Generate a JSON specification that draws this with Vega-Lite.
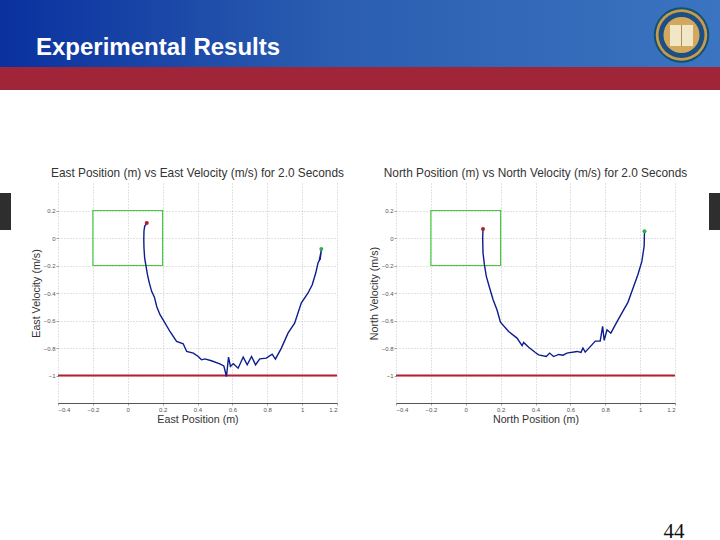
{
"$schema":"https://vega.github.io/schema/vega-lite/v6.json",
"padding":0,
"spacing":0,
"bounds":"flush",
"background":"white",
"config":{"view":{"stroke":null},"font":"Liberation Sans",
 "axis":{"grid":true,"gridColor":"#b5b5b5","gridDash":[1,2],"gridWidth":0.8,"labelFont":"Liberation Sans","labelFontSize":6,"labelColor":"#555","labelOverlap":false,"titleFont":"Liberation Sans","titleFontWeight":"normal","titleFontSize":10.7,"titleColor":"#333","tickColor":"#777","tickSize":2,"tickWidth":0.7,"labelPadding":1},
 "title":{"font":"Liberation Sans","fontSize":11.85,"fontWeight":"normal","color":"#333","offset":3}},
"datasets":{
 "east":[
{"t":0,"pos":0.109,"vel":0.109},{"t":1,"pos":0.097,"vel":0.085},{"t":2,"pos":0.093,"vel":0.049},{"t":3,"pos":0.092,"vel":-0.012},{"t":4,"pos":0.093,"vel":-0.073},{"t":5,"pos":0.097,"vel":-0.146},{"t":6,"pos":0.105,"vel":-0.206},{"t":7,"pos":0.113,"vel":-0.267},{"t":8,"pos":0.124,"vel":-0.328},{"t":9,"pos":0.137,"vel":-0.388},{"t":10,"pos":0.153,"vel":-0.43},{"t":11,"pos":0.166,"vel":-0.498},{"t":12,"pos":0.185,"vel":-0.558},{"t":13,"pos":0.214,"vel":-0.619},{"t":14,"pos":0.242,"vel":-0.68},{"t":15,"pos":0.28,"vel":-0.752},{"t":16,"pos":0.318,"vel":-0.769},{"t":17,"pos":0.338,"vel":-0.825},{"t":18,"pos":0.376,"vel":-0.837},{"t":19,"pos":0.404,"vel":-0.862},{"t":20,"pos":0.423,"vel":-0.886},{"t":21,"pos":0.442,"vel":-0.879},{"t":22,"pos":0.48,"vel":-0.893},{"t":23,"pos":0.528,"vel":-0.915},{"t":24,"pos":0.551,"vel":-0.93},{"t":25,"pos":0.566,"vel":-1.007},{"t":26,"pos":0.578,"vel":-0.866},{"t":27,"pos":0.589,"vel":-0.934},{"t":28,"pos":0.605,"vel":-0.915},{"t":29,"pos":0.633,"vel":-0.947},{"t":30,"pos":0.662,"vel":-0.866},{"t":31,"pos":0.685,"vel":-0.922},{"t":32,"pos":0.71,"vel":-0.862},{"t":33,"pos":0.733,"vel":-0.922},{"t":34,"pos":0.757,"vel":-0.879},{"t":35,"pos":0.795,"vel":-0.874},{"t":36,"pos":0.828,"vel":-0.845},{"t":37,"pos":0.847,"vel":-0.881},{"t":38,"pos":0.881,"vel":-0.801},{"t":39,"pos":0.919,"vel":-0.692},{"t":40,"pos":0.957,"vel":-0.619},{"t":41,"pos":0.995,"vel":-0.473},{"t":42,"pos":1.034,"vel":-0.4},{"t":43,"pos":1.058,"vel":-0.34},{"t":44,"pos":1.078,"vel":-0.255},{"t":45,"pos":1.091,"vel":-0.182},{"t":46,"pos":1.1,"vel":-0.158},{"t":47,"pos":1.097,"vel":-0.17},{"t":48,"pos":1.11,"vel":-0.09},{"t":49,"pos":1.103,"vel":-0.16},{"t":50,"pos":1.11,"vel":-0.08}],
 "north":[
{"t":0,"pos":0.099,"vel":0.065},{"t":1,"pos":0.097,"vel":0},{"t":2,"pos":0.099,"vel":-0.109},{"t":3,"pos":0.107,"vel":-0.194},{"t":4,"pos":0.118,"vel":-0.279},{"t":5,"pos":0.137,"vel":-0.364},{"t":6,"pos":0.157,"vel":-0.449},{"t":7,"pos":0.179,"vel":-0.522},{"t":8,"pos":0.199,"vel":-0.612},{"t":9,"pos":0.246,"vel":-0.68},{"t":10,"pos":0.294,"vel":-0.728},{"t":11,"pos":0.323,"vel":-0.782},{"t":12,"pos":0.332,"vel":-0.76},{"t":13,"pos":0.361,"vel":-0.794},{"t":14,"pos":0.399,"vel":-0.833},{"t":15,"pos":0.418,"vel":-0.85},{"t":16,"pos":0.462,"vel":-0.862},{"t":17,"pos":0.481,"vel":-0.837},{"t":18,"pos":0.504,"vel":-0.862},{"t":19,"pos":0.533,"vel":-0.847},{"t":20,"pos":0.558,"vel":-0.852},{"t":21,"pos":0.58,"vel":-0.837},{"t":22,"pos":0.638,"vel":-0.825},{"t":23,"pos":0.661,"vel":-0.832},{"t":24,"pos":0.672,"vel":-0.8},{"t":25,"pos":0.685,"vel":-0.83},{"t":26,"pos":0.743,"vel":-0.75},{"t":27,"pos":0.771,"vel":-0.75},{"t":28,"pos":0.785,"vel":-0.643},{"t":29,"pos":0.794,"vel":-0.745},{"t":30,"pos":0.81,"vel":-0.667},{"t":31,"pos":0.832,"vel":-0.692},{"t":32,"pos":0.863,"vel":-0.619},{"t":33,"pos":0.895,"vel":-0.546},{"t":34,"pos":0.93,"vel":-0.468},{"t":35,"pos":0.953,"vel":-0.388},{"t":36,"pos":0.987,"vel":-0.267},{"t":37,"pos":1.01,"vel":-0.17},{"t":38,"pos":1.023,"vel":-0.06},{"t":39,"pos":1.025,"vel":0.049}],
 "zone":[{"x0":-0.2,"x1":0.2,"y0":-0.2,"y1":0.2}],
 "limit":[{"x0":-0.4,"x1":1.2,"v":-1}],
 "one":[{"part":"decor"}]
},
"hconcat":[
 {"width":58,"height":220,"data":{"name":"one"},
  "layer":[
 {"mark":{"type":"rect","fill":{"gradient":"linear","x1":0,"x2":1,"y1":0,"y2":0,"stops":[{"offset":0,"color":"#0a319f"},{"offset":0.45,"color":"#2a5db0"},{"offset":1,"color":"#3b74c0"}]},"stroke":null},
  "encoding":{"x":{"datum":0,"type":"quantitative","scale":{"domain":[0,58]},"axis":null},"x2":{"datum":720},"y":{"datum":0,"type":"quantitative","scale":{"domain":[403,183]},"axis":null},"y2":{"datum":67}}},
 {"mark":{"type":"rect","fill":"#a02538","stroke":null},
  "encoding":{"x":{"datum":0,"type":"quantitative","scale":{"domain":[0,58]},"axis":null},"x2":{"datum":720},"y":{"datum":67,"type":"quantitative","scale":{"domain":[403,183]},"axis":null},"y2":{"datum":90}}},
 {"mark":{"type":"text","align":"left","baseline":"alphabetic","fontSize":24,"fontWeight":"bold","font":"Liberation Sans","color":"white","text":"Experimental Results"},
  "encoding":{"x":{"datum":36,"type":"quantitative","scale":{"domain":[0,58]},"axis":null},"y":{"datum":55,"type":"quantitative","scale":{"domain":[403,183]},"axis":null}}},
 {"mark":{"type":"point","filled":true,"opacity":1,"size":3080,"color":"#0f5273"},
  "encoding":{"x":{"datum":681.5,"type":"quantitative","scale":{"domain":[0,58]},"axis":null},"y":{"datum":35,"type":"quantitative","scale":{"domain":[403,183]},"axis":null}}},
 {"mark":{"type":"point","filled":true,"opacity":1,"size":2650,"color":"#c89a4a"},
  "encoding":{"x":{"datum":681.5,"type":"quantitative","scale":{"domain":[0,58]},"axis":null},"y":{"datum":35,"type":"quantitative","scale":{"domain":[403,183]},"axis":null}}},
 {"mark":{"type":"point","filled":true,"opacity":1,"size":2116,"color":"#1c4f86"},
  "encoding":{"x":{"datum":681.5,"type":"quantitative","scale":{"domain":[0,58]},"axis":null},"y":{"datum":35,"type":"quantitative","scale":{"domain":[403,183]},"axis":null}}},
 {"mark":{"type":"point","filled":true,"opacity":1,"size":1300,"color":"#d2a95c"},
  "encoding":{"x":{"datum":681.5,"type":"quantitative","scale":{"domain":[0,58]},"axis":null},"y":{"datum":35,"type":"quantitative","scale":{"domain":[403,183]},"axis":null}}},
 {"mark":{"type":"rect","fill":"#f0e6c8","stroke":null},
  "encoding":{"x":{"datum":670,"type":"quantitative","scale":{"domain":[0,58]},"axis":null},"x2":{"datum":693},"y":{"datum":25,"type":"quantitative","scale":{"domain":[403,183]},"axis":null},"y2":{"datum":46}}},
 {"mark":{"type":"rect","fill":"#b58d4c","stroke":null},
  "encoding":{"x":{"datum":681,"type":"quantitative","scale":{"domain":[0,58]},"axis":null},"x2":{"datum":682},"y":{"datum":25,"type":"quantitative","scale":{"domain":[403,183]},"axis":null},"y2":{"datum":46}}},
 {"mark":{"type":"rect","fill":"#2e2e2e","stroke":null},
  "encoding":{"x":{"datum":0,"type":"quantitative","scale":{"domain":[0,58]},"axis":null},"x2":{"datum":11},"y":{"datum":193,"type":"quantitative","scale":{"domain":[403,183]},"axis":null},"y2":{"datum":230}}}
 ]},
 {"width":279,"height":220,"title":"East Position (m) vs East Velocity (m/s) for 2.0 Seconds",
  "layer":[
   {"data":{"name":"zone"},"mark":{"type":"rect","fill":"transparent","stroke":"#46c83c","strokeWidth":1.2},
    "encoding":{"x":{"field":"x0","type":"quantitative","scale":{"domain":[-0.4,1.2]},
      "title":"East Position (m)","axis":{"values":[-0.4,-0.2,0,0.2,0.4,0.6,0.8,1,1.2],"tickCount":20,"format":".1~f","domainColor":"#555","titlePadding":2}},
     "x2":{"field":"x1"},
     "y":{"field":"y0","type":"quantitative","scale":{"domain":[-1.2,0.4]},
      "title":"East Velocity (m/s)","axis":{"values":[-1,-0.8,-0.6,-0.4,-0.2,0,0.2],"tickCount":20,"format":".1~f","domain":false,"titlePadding":2}},
     "y2":{"field":"y1"}}},
   {"data":{"name":"limit"},"mark":{"type":"rule","stroke":"#b3202c","strokeWidth":1.8},
    "encoding":{"x":{"field":"x0","type":"quantitative"},"x2":{"field":"x1"},"y":{"field":"v","type":"quantitative"}}},
   {"data":{"name":"east"},"mark":{"type":"line","stroke":"#0c1d8c","strokeWidth":1.4,"interpolate":"linear"},
    "encoding":{"x":{"field":"pos","type":"quantitative"},"y":{"field":"vel","type":"quantitative"},"order":{"field":"t"}}},
   {"data":{"name":"east"},"transform":[{"filter":"datum.t==0"}],"mark":{"type":"point","filled":true,"opacity":1,"size":16,"color":"#b0202c"},
    "encoding":{"x":{"field":"pos","type":"quantitative"},"y":{"field":"vel","type":"quantitative"}}},
   {"data":{"name":"east"},"transform":[{"filter":"datum.t==50"}],"mark":{"type":"point","filled":true,"opacity":1,"size":16,"color":"#2fb04a"},
    "encoding":{"x":{"field":"pos","type":"quantitative"},"y":{"field":"vel","type":"quantitative"}}}
  ]},
 {"width":59,"height":220,"data":{"name":"one"},"mark":{"type":"rect","fill":"transparent","stroke":null},
  "encoding":{"x":{"datum":0,"type":"quantitative","scale":{"domain":[0,59]},"axis":null},"y":{"datum":0,"type":"quantitative","scale":{"domain":[0,1]},"axis":null}}},
 {"width":279,"height":220,"title":"North Position (m) vs North Velocity (m/s) for 2.0 Seconds",
  "layer":[
   {"data":{"name":"zone"},"mark":{"type":"rect","fill":"transparent","stroke":"#46c83c","strokeWidth":1.2},
    "encoding":{"x":{"field":"x0","type":"quantitative","scale":{"domain":[-0.4,1.2]},
      "title":"North Position (m)","axis":{"values":[-0.4,-0.2,0,0.2,0.4,0.6,0.8,1,1.2],"tickCount":20,"format":".1~f","domainColor":"#555","titlePadding":2}},
     "x2":{"field":"x1"},
     "y":{"field":"y0","type":"quantitative","scale":{"domain":[-1.2,0.4]},
      "title":"North Velocity (m/s)","axis":{"values":[-1,-0.8,-0.6,-0.4,-0.2,0,0.2],"tickCount":20,"format":".1~f","domain":false,"titlePadding":2}},
     "y2":{"field":"y1"}}},
   {"data":{"name":"limit"},"mark":{"type":"rule","stroke":"#b3202c","strokeWidth":1.8},
    "encoding":{"x":{"field":"x0","type":"quantitative"},"x2":{"field":"x1"},"y":{"field":"v","type":"quantitative"}}},
   {"data":{"name":"north"},"mark":{"type":"line","stroke":"#0c1d8c","strokeWidth":1.4,"interpolate":"linear"},
    "encoding":{"x":{"field":"pos","type":"quantitative"},"y":{"field":"vel","type":"quantitative"},"order":{"field":"t"}}},
   {"data":{"name":"north"},"transform":[{"filter":"datum.t==0"}],"mark":{"type":"point","filled":true,"opacity":1,"size":16,"color":"#b0202c"},
    "encoding":{"x":{"field":"pos","type":"quantitative"},"y":{"field":"vel","type":"quantitative"}}},
   {"data":{"name":"north"},"transform":[{"filter":"datum.t==39"}],"mark":{"type":"point","filled":true,"opacity":1,"size":16,"color":"#2fb04a"},
    "encoding":{"x":{"field":"pos","type":"quantitative"},"y":{"field":"vel","type":"quantitative"}}}
  ]},
 {"width":45,"height":220,"data":{"name":"one"},
  "layer":[
  {"mark":{"type":"rect","fill":"#2e2e2e","stroke":null},
   "encoding":{"x":{"datum":709,"type":"quantitative","scale":{"domain":[675,720]},"axis":null},"x2":{"datum":720},"y":{"datum":193,"type":"quantitative","scale":{"domain":[403,183]},"axis":null},"y2":{"datum":230}}},
  {"mark":{"type":"text","align":"center","baseline":"alphabetic","font":"Liberation Serif","fontSize":21,"color":"#111","text":"44"},
   "encoding":{"x":{"datum":674,"type":"quantitative","scale":{"domain":[675,720]},"axis":null},"y":{"datum":538,"type":"quantitative","scale":{"domain":[403,183]},"axis":null}}}
  ]}
]
}
